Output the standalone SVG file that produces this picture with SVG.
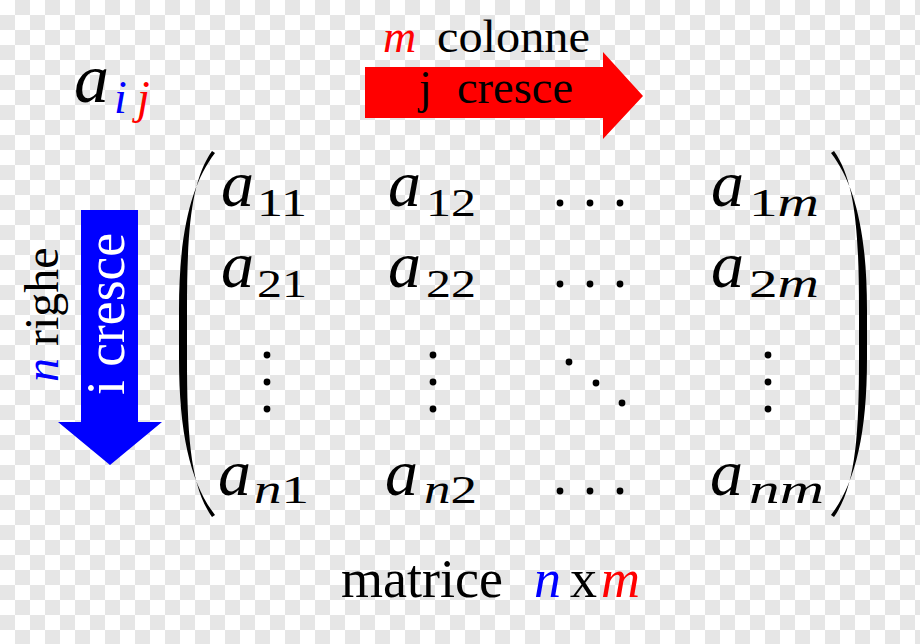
<svg xmlns="http://www.w3.org/2000/svg" width="920" height="644" viewBox="0 0 920 644">
<defs>
<pattern id="chk" width="30" height="30" patternUnits="userSpaceOnUse">
<rect width="30" height="30" fill="#ffffff"/>
<rect x="15" y="0" width="15" height="15" fill="#e6e6e6"/>
<rect x="0" y="15" width="15" height="15" fill="#e6e6e6"/>
</pattern>
<path id="paren" d="M215,153 C192,183 179,230 179,310 L179,358 C179,438 192,485 215,515 L212,517 C191,487 187,438 187,358 L187,310 C187,230 191,181 212,151 Z"/>
</defs>
<style>
.t{font-family:"Liberation Serif","Times New Roman",serif;fill:#000}
.mi{font-family:"Liberation Serif","Times New Roman",serif;font-style:italic}
.a{font-family:"Liberation Serif","Times New Roman",serif;font-style:italic;font-size:66px;fill:#000}
.s{font-family:"Liberation Serif","Times New Roman",serif;font-size:40px;fill:#000}
.si{font-style:italic}
.red{fill:#ff0000}
.blue{fill:#0000ff}
.dot{fill:#000}
</style>
<rect width="920" height="644" fill="url(#chk)"/>

<g id="arrows">
<path id="arrow-j" class="red" d="M365,67 L603,67 L603,52 L643,96 L603,139 L603,118 L365,118 Z"/>
<path id="arrow-i" class="blue" d="M81,210 L138,210 L138,422 L162,422 L110,465 L58,422 L81,422 Z"/>
</g>

<g id="label-aij">
<text x="74" y="102" class="a" style="font-size:70px">a</text>
<text x="114" y="113" class="mi blue" style="font-size:46px">i</text>
<text x="137" y="113" class="mi red" style="font-size:46px">j</text>
</g>

<g id="label-colonne">
<text x="383" y="52" class="mi red" style="font-size:46px">m</text>
<text x="437" y="52" class="t" style="font-size:46px" textLength="153" lengthAdjust="spacingAndGlyphs">colonne</text>
</g>

<g id="label-jcresce">
<text x="419" y="103" class="t" style="font-size:46px">j</text>
<text x="457" y="103" class="t" style="font-size:46px" textLength="116" lengthAdjust="spacingAndGlyphs">cresce</text>
</g>

<g id="label-icresce" transform="translate(124,395) rotate(-90)">
<text x="0" y="0" class="t" style="font-size:54px;fill:#fff" textLength="162" lengthAdjust="spacingAndGlyphs">i cresce</text>
</g>

<g id="label-righe" transform="translate(58,382) rotate(-90)">
<text x="0" y="0" class="t" style="font-size:48px"><tspan class="mi blue">n</tspan> righe</text>
</g>

<g id="matrix">
<use href="#paren" class="dot"/>
<use href="#paren" class="dot" transform="translate(1046,0) scale(-1,1)"/>

<g id="a11"><text x="221" y="206" class="a">a</text><text x="257" y="216" class="s" textLength="50" lengthAdjust="spacingAndGlyphs">11</text></g>
<g id="a12"><text x="388" y="206" class="a">a</text><text x="426" y="216" class="s" textLength="50" lengthAdjust="spacingAndGlyphs">12</text></g>
<g id="a1m"><text x="711" y="206" class="a">a</text><text x="749" y="216" class="s" textLength="70" lengthAdjust="spacingAndGlyphs">1<tspan class="si">m</tspan></text></g>

<g id="a21"><text x="221" y="287" class="a">a</text><text x="257" y="297" class="s" textLength="50" lengthAdjust="spacingAndGlyphs">21</text></g>
<g id="a22"><text x="388" y="287" class="a">a</text><text x="426" y="297" class="s" textLength="50" lengthAdjust="spacingAndGlyphs">22</text></g>
<g id="a2m"><text x="711" y="287" class="a">a</text><text x="749" y="297" class="s" textLength="70" lengthAdjust="spacingAndGlyphs">2<tspan class="si">m</tspan></text></g>

<g id="an1"><text x="218" y="495" class="a">a</text><text x="254" y="503" class="s" textLength="55" lengthAdjust="spacingAndGlyphs"><tspan class="si">n</tspan>1</text></g>
<g id="an2"><text x="385" y="495" class="a">a</text><text x="424" y="503" class="s" textLength="53" lengthAdjust="spacingAndGlyphs"><tspan class="si">n</tspan>2</text></g>
<g id="anm"><text x="710" y="495" class="a">a</text><text x="749" y="503" class="s si" textLength="75" lengthAdjust="spacingAndGlyphs">nm</text></g>

<g id="dots">
<circle class="dot" cx="560" cy="203" r="3.4"/><circle class="dot" cx="590" cy="203" r="3.4"/><circle class="dot" cx="620" cy="203" r="3.4"/>
<circle class="dot" cx="560" cy="284" r="3.4"/><circle class="dot" cx="590" cy="284" r="3.4"/><circle class="dot" cx="620" cy="284" r="3.4"/>
<circle class="dot" cx="560" cy="491" r="3.4"/><circle class="dot" cx="590" cy="491" r="3.4"/><circle class="dot" cx="620" cy="491" r="3.4"/>
<circle class="dot" cx="267" cy="355" r="3.4"/><circle class="dot" cx="267" cy="382" r="3.4"/><circle class="dot" cx="267" cy="409" r="3.4"/>
<circle class="dot" cx="433" cy="355" r="3.4"/><circle class="dot" cx="433" cy="382" r="3.4"/><circle class="dot" cx="433" cy="409" r="3.4"/>
<circle class="dot" cx="768" cy="355" r="3.4"/><circle class="dot" cx="768" cy="382" r="3.4"/><circle class="dot" cx="768" cy="409" r="3.4"/>
<circle class="dot" cx="569" cy="362" r="3.4"/><circle class="dot" cx="596" cy="383" r="3.4"/><circle class="dot" cx="622" cy="403" r="3.4"/>
</g>
</g>

<g id="label-matrice">
<text x="341" y="597" class="t" style="font-size:54px">matrice</text>
<text x="534" y="597" class="mi blue" style="font-size:54px">n</text>
<text x="570" y="597" class="t" style="font-size:54px">x</text>
<text x="601" y="597" class="mi red" style="font-size:54px">m</text>
</g>
</svg>
